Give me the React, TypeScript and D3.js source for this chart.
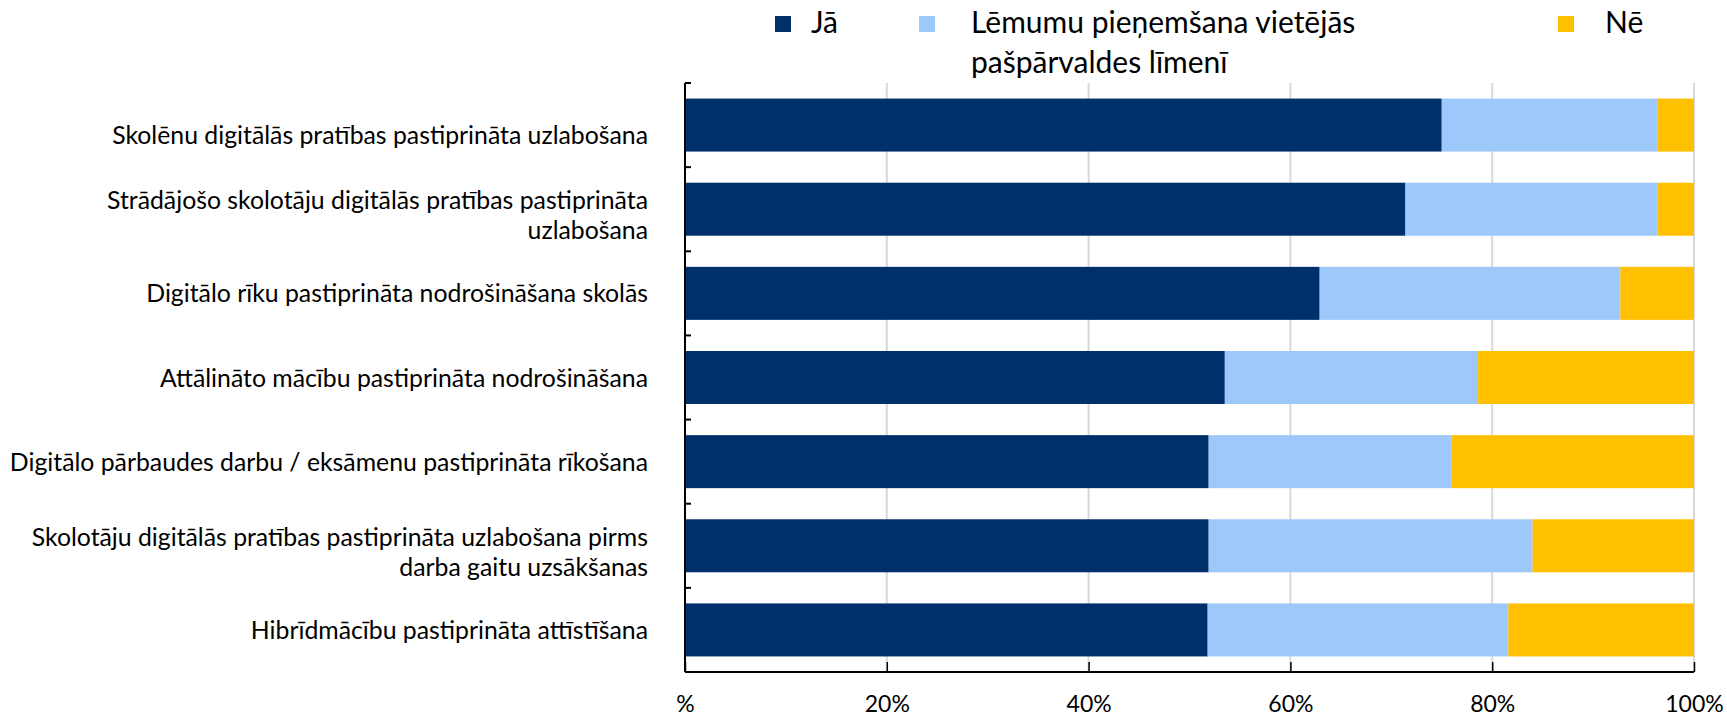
import React from "react";
import { useEffect, useRef } from "react";
import { select, scaleLinear, scaleBand, stack, axisBottom } from "d3";

const categories = [
  ["Skolēnu digitālās pratības pastiprināta uzlabošana"],
  ["Strādājošo skolotāju digitālās pratības pastiprināta", "uzlabošana"],
  ["Digitālo rīku pastiprināta nodrošināšana skolās"],
  ["Attālināto mācību pastiprināta nodrošināšana"],
  ["Digitālo pārbaudes darbu / eksāmenu pastiprināta rīkošana"],
  ["Skolotāju digitālās pratības pastiprināta uzlabošana pirms", "darba gaitu uzsākšanas"],
  ["Hibrīdmācību pastiprināta attīstīšana"],
];
const ja = [75.0, 71.4, 62.9, 53.5, 51.9, 51.9, 51.8];
const lemumu = [21.4, 25.0, 29.8, 25.1, 24.1, 32.1, 29.8];
const ne = [3.6, 3.6, 7.3, 21.4, 24.0, 16.0, 18.4];
const xTicks = [0, 20, 40, 60, 80, 100];
const xTickLabels = ["%", "20%", "40%", "60%", "80%", "100%"];
const seriesKeys = ["ja", "lemumu", "ne"];
const seriesLabels = [["Jā"], ["Lēmumu pieņemšana vietējās", "pašpārvaldes līmenī"], ["Nē"]];
const colors = { ja: "#00306B", lemumu: "#9EC8F9", ne: "#FFC000" };

const FONT = "Lato, 'Open Sans', sans-serif";

const App = () => {
  const svgRef = useRef(null);

  useEffect(() => {
    const svg = select(svgRef.current);
    svg.selectAll("*").remove();

    const left = 685, right = 1694, top = 83, bottom = 672;
    const rows = categories.map((c, i) => ({ key: i, ja: ja[i], lemumu: lemumu[i], ne: ne[i] }));

    const x = scaleLinear().domain([0, 100]).range([left, right]);
    const y = scaleBand().domain(rows.map((r) => String(r.key))).range([top, bottom]).paddingInner(0.37).paddingOuter(0.185);

    // grid
    svg.append("g")
      .selectAll("line")
      .data(xTicks.slice(1))
      .join("line")
      .attr("x1", (d) => x(d)).attr("x2", (d) => x(d))
      .attr("y1", top).attr("y2", bottom)
      .attr("stroke", "#d9d9d9").attr("stroke-width", 2);

    const layers = stack().keys(seriesKeys)(rows);
    svg.selectAll(".layer")
      .data(layers)
      .join("g")
      .attr("class", "layer")
      .attr("fill", (l) => colors[l.key])
      .selectAll("rect")
      .data((l) => l)
      .join("rect")
      .attr("x", (s) => x(s[0]))
      .attr("width", (s) => x(s[1]) - x(s[0]))
      .attr("y", (s) => y(String(s.data.key)))
      .attr("height", y.bandwidth());

    // bottom axis
    const xAxis = axisBottom(x).tickValues(xTicks).tickSize(-10).tickFormat((d, i) => xTickLabels[i]);
    const gx = svg.append("g").attr("transform", `translate(0,${bottom})`).call(xAxis);
    gx.select(".domain").attr("d", `M${left},0H${right}`).attr("stroke", "#000").attr("stroke-width", 2);
    gx.selectAll(".tick line").attr("stroke", "#000").attr("stroke-width", 1.5);
    gx.selectAll(".tick text")
      .attr("y", 40)
      .attr("dy", 0)
      .style("font-family", FONT)
      .style("font-size", "23px")
      .attr("fill", "#000");

    // left axis line with inward ticks at band boundaries
    const step = y.step();
    const boundaries = rows.map((r, i) => top + i * step);
    svg.append("line").attr("x1", left).attr("x2", left).attr("y1", top).attr("y2", bottom)
      .attr("stroke", "#000").attr("stroke-width", 2);
    svg.append("g").selectAll("line").data(boundaries).join("line")
      .attr("x1", left).attr("x2", left + 6).attr("y1", (d) => d).attr("y2", (d) => d)
      .attr("stroke", "#000").attr("stroke-width", 2);

    // category labels
    const labels = svg.append("g")
      .selectAll("text")
      .data(categories)
      .join("text")
      .attr("text-anchor", "end")
      .style("font-family", FONT)
      .style("font-size", "24.8px")
      .attr("fill", "#000");
    labels.each(function (lines, i) {
      const cy = y(String(i)) + y.bandwidth() / 2;
      const lh = 30;
      const y0 = cy - ((lines.length - 1) * lh) / 2 + 9 + (lines.length > 1 ? 6 : 0) + (i === 0 ? 10 : 0);
      select(this).selectAll("tspan").data(lines).join("tspan")
        .attr("x", 648)
        .attr("y", (d, k) => y0 + k * lh)
        .text((d) => d);
    });

    // legend
    const legendX = [775, 919, 1558];
    const textOffset = [36, 52, 47];
    const legend = svg.append("g").selectAll("g").data(seriesKeys).join("g")
      .attr("transform", (d, i) => `translate(${legendX[i]},0)`);
    legend.append("rect").attr("x", 0).attr("y", 16).attr("width", 16).attr("height", 16)
      .attr("fill", (d) => colors[d]);
    legend.append("text")
      .attr("x", (d, i) => textOffset[i])
      .style("font-family", FONT)
      .style("font-size", "30px")
      .attr("fill", "#000")
      .selectAll("tspan")
      .data((d, i) => seriesLabels[i])
      .join("tspan")
      .attr("x", function () { return select(this.parentNode).attr("x"); })
      .attr("y", (d, k) => 33 + k * 40)
      .text((d) => d);
  }, []);

  return (
    <svg
      ref={svgRef}
      width={1727}
      height={716}
      style={{ position: "absolute", left: 0, top: 0, background: "#fff" }}
    />
  );
};

export default App;
